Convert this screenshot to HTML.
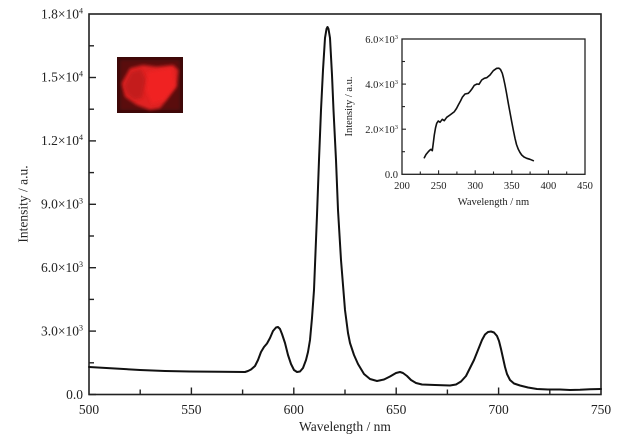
<!DOCTYPE html>
<html>
<head>
<meta charset="utf-8">
<style>
html,body{margin:0;padding:0;background:#fff;}
svg{display:block;}
text{font-family:"Liberation Serif","DejaVu Serif",serif;fill:#222;}
</style>
</head>
<body>
<svg width="625" height="443" viewBox="0 0 625 443" xmlns="http://www.w3.org/2000/svg">
<defs>
<filter id="bl" x="-20%" y="-20%" width="140%" height="140%"><feGaussianBlur stdDeviation="1.6"/></filter>
<clipPath id="pc"><rect x="117" y="57" width="66" height="56"/></clipPath>
</defs>

<!-- Main frame -->
<rect x="89" y="14" width="512" height="380.5" fill="none" stroke="#222" stroke-width="1.6"/>

<!-- Y ticks main -->
<g stroke="#222" stroke-width="1.4">
<line x1="89" y1="394.5" x2="96" y2="394.5"/>
<line x1="89" y1="362.8" x2="94" y2="362.8"/>
<line x1="89" y1="331.1" x2="96" y2="331.1"/>
<line x1="89" y1="299.4" x2="94" y2="299.4"/>
<line x1="89" y1="267.7" x2="96" y2="267.7"/>
<line x1="89" y1="236.0" x2="94" y2="236.0"/>
<line x1="89" y1="204.3" x2="96" y2="204.3"/>
<line x1="89" y1="172.6" x2="94" y2="172.6"/>
<line x1="89" y1="140.9" x2="96" y2="140.9"/>
<line x1="89" y1="109.2" x2="94" y2="109.2"/>
<line x1="89" y1="77.5" x2="96" y2="77.5"/>
<line x1="89" y1="45.8" x2="94" y2="45.8"/>
<!-- X ticks main -->
<line x1="140.2" y1="394.5" x2="140.2" y2="389.5"/>
<line x1="191.4" y1="394.5" x2="191.4" y2="387.5"/>
<line x1="242.6" y1="394.5" x2="242.6" y2="389.5"/>
<line x1="293.8" y1="394.5" x2="293.8" y2="387.5"/>
<line x1="345.0" y1="394.5" x2="345.0" y2="389.5"/>
<line x1="396.2" y1="394.5" x2="396.2" y2="387.5"/>
<line x1="447.4" y1="394.5" x2="447.4" y2="389.5"/>
<line x1="498.6" y1="394.5" x2="498.6" y2="387.5"/>
<line x1="549.8" y1="394.5" x2="549.8" y2="389.5"/>
</g>

<!-- Y tick labels main -->
<g font-size="13.5" text-anchor="end">
<text x="83" y="399">0.0</text>
<text x="83" y="335.5">3.0×10<tspan font-size="8" dy="-5">3</tspan></text>
<text x="83" y="272">6.0×10<tspan font-size="8" dy="-5">3</tspan></text>
<text x="83" y="208.5">9.0×10<tspan font-size="8" dy="-5">3</tspan></text>
<text x="83" y="145">1.2×10<tspan font-size="8" dy="-5">4</tspan></text>
<text x="83" y="81.5">1.5×10<tspan font-size="8" dy="-5">4</tspan></text>
<text x="83" y="18.5">1.8×10<tspan font-size="8" dy="-5">4</tspan></text>
</g>
<!-- X tick labels main -->
<g font-size="13.5" text-anchor="middle">
<text x="89" y="414">500</text>
<text x="191.4" y="414">550</text>
<text x="293.8" y="414">600</text>
<text x="396.2" y="414">650</text>
<text x="498.6" y="414">700</text>
<text x="601" y="414">750</text>
</g>
<text x="345" y="431" font-size="13.5" text-anchor="middle">Wavelength / nm</text>
<text transform="translate(27.5,204) rotate(-90)" font-size="13.5" text-anchor="middle">Intensity / a.u.</text>

<!-- Main curve -->
<polyline fill="none" stroke="#111" stroke-width="2" stroke-linejoin="round" stroke-linecap="round" points="
89,367 115,368.5 140,370 165,371 190,371.5 220,371.8 245,372 248,371 251,369.5 255,366 258,360 261,352 264,347 267,343.5 270,338 273,331 276,327.5 278,327 280,329 282,334 285,343 288,355 291,364 294,370 297,372 300,371.5 303,368 306,360 308,352 310,340 312,318 314,290 317,215 319,160 321,110 323,70 325,38 326.5,29 327.5,27 328.5,29 330,38 332,75 333.5,110 336,160 338,210 341,260 345,310 348,333 350,343 354,355 358,364 364,374 370,379 377,381 384,379.5 390,376.5 396,373 400,372 403,373 407,376 411,380 416,383 422,384.5 435,385 450,385.5 456,384.5 461,381.5 466,376 470,368 474,360 478,350 482,340 485,334.5 488,332 491,331.5 494,332.5 497,336 499,341 501,349 503,358 505,367 507,374 510,380 514,383.5 520,385.5 528,387.5 537,389 548,389.5 560,389.5 570,390 580,389.8 590,389.3 601,389
"/>

<!-- Photo -->
<g clip-path="url(#pc)">
<rect x="117" y="57" width="66" height="56" fill="#3a0909"/>
<rect x="120" y="60" width="60" height="50" fill="#5a0e0e" filter="url(#bl)"/>
<polygon points="121.7,83.3 130,68.3 143,65 156.7,66.7 173.3,65 178.3,70 176.7,86.7 166.7,100 160,108.3 150,110 136.7,105 125,96.7" fill="#e12020" filter="url(#bl)"/>
<polygon points="124,86 131,72 141,69 146,80 142,98 134,100 127,94" fill="#c41a1a" filter="url(#bl)"/>
<polygon points="148,72 172,68 175,86 164,100 152,104 146,90" fill="#f02424" filter="url(#bl)"/>
</g>

<!-- Inset frame -->
<rect x="402" y="39" width="183" height="135.3" fill="none" stroke="#222" stroke-width="1.3"/>
<g stroke="#222" stroke-width="1.1">
<line x1="402" y1="151.7" x2="405" y2="151.7"/>
<line x1="402" y1="129.2" x2="406" y2="129.2"/>
<line x1="402" y1="106.6" x2="405" y2="106.6"/>
<line x1="402" y1="84.1" x2="406" y2="84.1"/>
<line x1="402" y1="61.5" x2="405" y2="61.5"/>
<line x1="420.3" y1="174.3" x2="420.3" y2="171.5"/>
<line x1="438.6" y1="174.3" x2="438.6" y2="170.3"/>
<line x1="456.9" y1="174.3" x2="456.9" y2="171.5"/>
<line x1="475.2" y1="174.3" x2="475.2" y2="170.3"/>
<line x1="493.5" y1="174.3" x2="493.5" y2="171.5"/>
<line x1="511.8" y1="174.3" x2="511.8" y2="170.3"/>
<line x1="530.1" y1="174.3" x2="530.1" y2="171.5"/>
<line x1="548.4" y1="174.3" x2="548.4" y2="170.3"/>
<line x1="566.7" y1="174.3" x2="566.7" y2="171.5"/>
</g>
<g font-size="10.5" text-anchor="end">
<text x="398" y="178">0.0</text>
<text x="398" y="133">2.0×10<tspan font-size="6.5" dy="-4">3</tspan></text>
<text x="398" y="88">4.0×10<tspan font-size="6.5" dy="-4">3</tspan></text>
<text x="398" y="43">6.0×10<tspan font-size="6.5" dy="-4">3</tspan></text>
</g>
<g font-size="10.5" text-anchor="middle">
<text x="402" y="189">200</text>
<text x="438.6" y="189">250</text>
<text x="475.2" y="189">300</text>
<text x="511.8" y="189">350</text>
<text x="548.4" y="189">400</text>
<text x="585" y="189">450</text>
</g>
<text x="493.5" y="205" font-size="10.5" text-anchor="middle">Wavelength / nm</text>
<text transform="translate(352,106.5) rotate(-90)" font-size="10.5" text-anchor="middle">Intensity / a.u.</text>

<!-- Inset curve -->
<polyline fill="none" stroke="#111" stroke-width="1.6" stroke-linejoin="round" stroke-linecap="round" points="
424.3,157.7 426,154.5 428.3,151.7 430,150 431,149.3 432.3,150.7 433.3,143 434.3,135 435.5,128 436.7,123.3 438.3,121 440,122.3 442.3,119.3 444.3,120.7 446.7,117.3 450,115 454.3,111.7 456.5,108.5 458.3,105 460.5,101 462.3,97.3 465,94 468.3,93.3 470,91.5 471.7,89.3 474.3,85.3 477,84 479,84.3 481.7,80 484.3,78.3 486.7,77.7 490,75 493.3,70.7 496.7,68.3 499,68.2 500.5,69.5 502.3,73.3 503.5,78 505,85 506.5,93 508.3,103.3 510,112.5 511.7,121.7 513.5,131 515,138.3 516.5,144.5 518.3,149.3 520,152.5 521.7,155 524,157 526.7,158.3 530,159.3 533.3,160.7
"/>
</svg>
</body>
</html>
